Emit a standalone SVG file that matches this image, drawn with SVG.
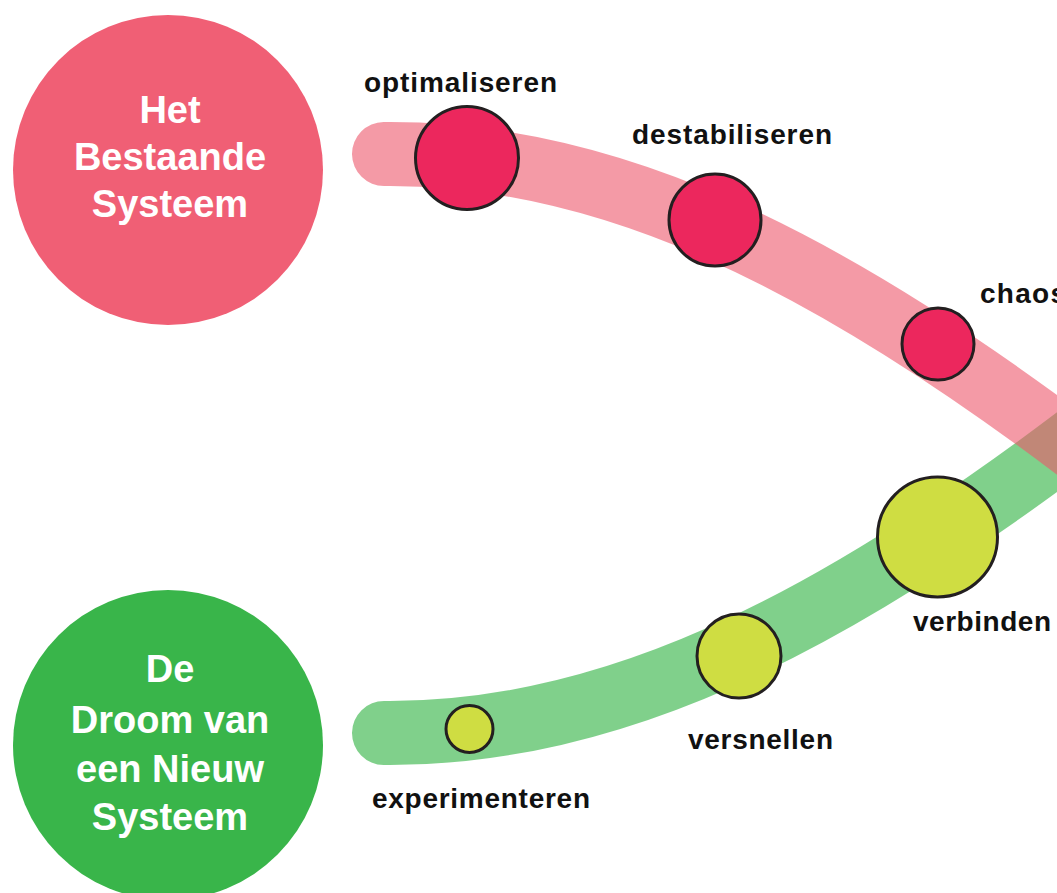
<svg xmlns="http://www.w3.org/2000/svg" width="1057" height="893" viewBox="0 0 1057 893">
<defs>
<style>
.band{fill:none;stroke-width:64;stroke-linecap:round}
.pinkband{stroke:#ed566b;stroke-opacity:0.6}
.greenband{stroke:#39b54a;stroke-opacity:0.64}
.pnode{fill:#ec275d;stroke:#231f20;stroke-width:3}
.gnode{fill:#cfdd42;stroke:#231f20;stroke-width:3}
.lbl{font-family:"Liberation Sans",Arial,sans-serif;font-weight:bold;font-size:28px;fill:#111}
.big{font-family:"Liberation Sans",Arial,sans-serif;font-weight:bold;font-size:38px;fill:#fff;text-anchor:middle}
</style>
</defs>
<rect width="1057" height="893" fill="#fff"/>
<g id="connectors">
<path class="band greenband" d="M384,733 C600,735 820,637 1110,412"/>
<path class="band pinkband" d="M384,154 C600,152 820,250 1110,475"/>
</g>
<g id="bestaande">
<circle cx="168" cy="170" r="155" fill="#f05f75"/>
<text class="big" x="170" y="123">Het</text>
<text class="big" x="170" y="170">Bestaande</text>
<text class="big" x="170" y="217">Systeem</text>
</g>
<g id="droom">
<circle cx="168" cy="745" r="155" fill="#39b54a"/>
<text class="big" x="170" y="682">De</text>
<text class="big" x="170" y="733">Droom van</text>
<text class="big" x="170" y="782">een Nieuw</text>
<text class="big" x="170" y="830">Systeem</text>
</g>
<g id="optimaliseren">
<circle class="pnode" cx="467" cy="158" r="51.5"/>
<text class="lbl" x="364" y="92" textLength="193" lengthAdjust="spacing">optimaliseren</text>
</g>
<g id="destabiliseren">
<circle class="pnode" cx="715" cy="220" r="46"/>
<text class="lbl" x="632" y="144" textLength="200" lengthAdjust="spacing">destabiliseren</text>
</g>
<g id="chaos">
<circle class="pnode" cx="938" cy="344" r="36"/>
<text class="lbl" x="980" y="303" textLength="86" lengthAdjust="spacing">chaos</text>
</g>
<g id="verbinden">
<circle class="gnode" cx="937.5" cy="537" r="60"/>
<text class="lbl" x="913" y="631" textLength="138" lengthAdjust="spacing">verbinden</text>
</g>
<g id="versnellen">
<circle class="gnode" cx="739" cy="656" r="42"/>
<text class="lbl" x="688" y="749" textLength="145" lengthAdjust="spacing">versnellen</text>
</g>
<g id="experimenteren">
<circle class="gnode" cx="469.5" cy="729" r="23.5"/>
<text class="lbl" x="372" y="808" textLength="218" lengthAdjust="spacing">experimenteren</text>
</g>
</svg>
